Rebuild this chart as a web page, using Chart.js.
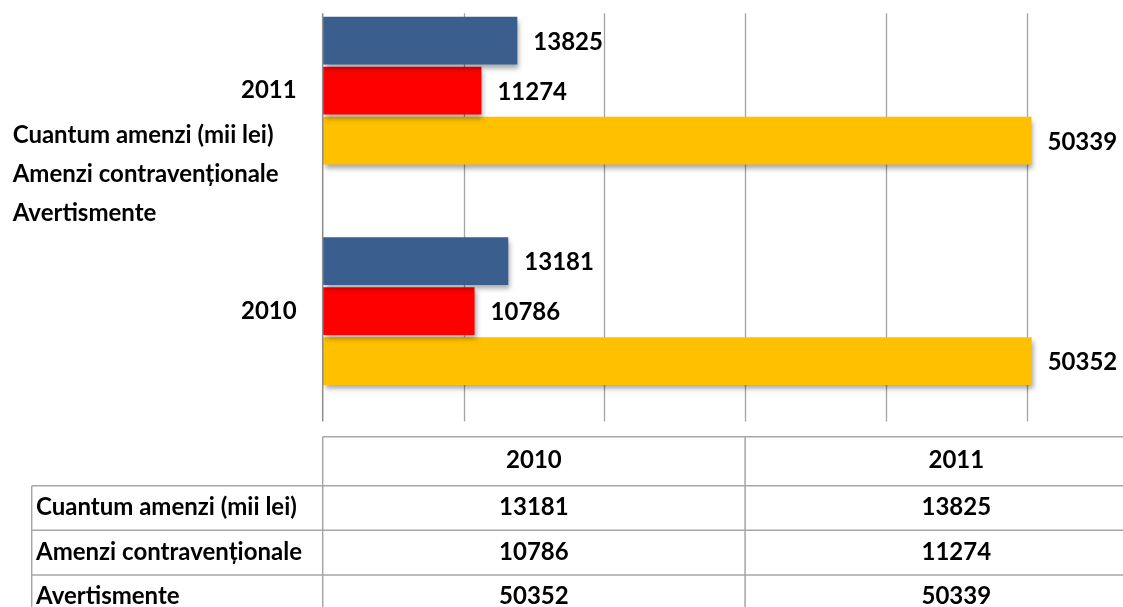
<!DOCTYPE html>
<html>
<head>
<meta charset="utf-8">
<script src="https://cdn.jsdelivr.net/npm/chart.js@4.4.1/dist/chart.umd.min.js"></script>
<style>
  html, body { margin: 0; padding: 0; background: #fff; overflow: hidden; width: 1123px; height: 607px; }
  #wrap { position: absolute; left: 0; top: -60px; width: 1190px; height: 680px; }
</style>
</head>
<body>
<div id="wrap"><canvas id="chart" width="1190" height="680"></canvas></div>
<script>
// date
const years = ["2010", "2011"];
const seriesNames = ["Cuantum amenzi (mii lei)", "Amenzi contravenționale", "Avertismente"];
const cuantum = [13181, 13825];
const amenzi = [10786, 11274];
const avertismente = [50352, 50339];
const axisMax = 60000;
const axisStep = 10000;

const colors = ["#3a5f8e", "#ff0000", "#ffc000"];
const SHIFT = 60; // canvas is moved up by this much
const FONT = "bold 24px Lato";

// grila, axa si umbra barelor
const gridAndShadow = {
  id: "gridAndShadow",
  beforeDatasetsDraw(chart) {
    const { ctx, chartArea } = chart;
    const x = chart.scales.x;
    const top = 13.3 + SHIFT;
    ctx.save();
    ctx.strokeStyle = "#a3a3a3";
    ctx.lineWidth = 1.3;
    x.ticks.forEach((t) => {
      if (t.value === 0) return;
      const px = Math.round(x.getPixelForValue(t.value)) + 0.5;
      ctx.beginPath();
      ctx.moveTo(px, top);
      ctx.lineTo(px, chartArea.bottom);
      ctx.stroke();
    });
    ctx.restore();

    ctx.save();
    ctx.shadowColor = "rgba(0,0,0,0.35)";
    ctx.shadowBlur = 5;
    ctx.shadowOffsetX = 2;
    ctx.shadowOffsetY = 4;
  },
  afterDatasetsDraw(chart) {
    const { ctx, chartArea } = chart;
    ctx.restore();
    // axa verticala
    ctx.save();
    ctx.strokeStyle = "#8c8c8c";
    ctx.lineWidth = 1.5;
    ctx.beginPath();
    ctx.moveTo(chartArea.left, 13.3 + SHIFT);
    ctx.lineTo(chartArea.left, chartArea.bottom);
    ctx.stroke();
    ctx.restore();

    // etichete valori
    ctx.save();
    ctx.font = FONT;
    ctx.fillStyle = "#000";
    ctx.textAlign = "left";
    ctx.textBaseline = "alphabetic";
    chart.data.datasets.forEach((ds, i) => {
      const meta = chart.getDatasetMeta(i);
      meta.data.forEach((bar, j) => {
        ctx.fillText(String(ds.data[j]), bar.x + 16, bar.y + 9);
      });
    });
    ctx.restore();
  },
};

// legenda (doar text) si tabelul de date
const legendAndTable = {
  id: "legendAndTable",
  afterDraw(chart) {
    const { ctx, chartArea } = chart;
    ctx.save();
    ctx.font = FONT;
    ctx.fillStyle = "#000";
    ctx.textBaseline = "alphabetic";
    ctx.textAlign = "left";
    seriesNames.forEach((name, i) => {
      ctx.fillText(name, 12.7, 142.5 + i * 39 + SHIFT);
    });

    // tabel
    const left = chartArea.left;
    const right = chartArea.right;
    const colW = (right - left) / years.length;
    const labelLeft = 31.7;
    const headTop = chartArea.bottom + 15.2;
    const headBottom = headTop + 49;
    const rowH = 44.6;
    const rows = [cuantum, amenzi, avertismente];
    const tableBottom = headBottom + rowH * rows.length;

    ctx.strokeStyle = "#a6a6a6";
    ctx.lineWidth = 1.5;
    ctx.beginPath();
    ctx.moveTo(left, headTop);
    ctx.lineTo(right, headTop);
    for (let r = 0; r <= rows.length; r++) {
      const y = headBottom + r * rowH;
      ctx.moveTo(labelLeft, y);
      ctx.lineTo(right, y);
    }
    ctx.moveTo(labelLeft, headBottom);
    ctx.lineTo(labelLeft, tableBottom);
    for (let c = 0; c <= years.length; c++) {
      const x = left + c * colW;
      ctx.moveTo(x, headTop);
      ctx.lineTo(x, tableBottom);
    }
    ctx.stroke();

    ctx.textAlign = "center";
    years.forEach((y, c) => {
      ctx.fillText(y, left + colW * (c + 0.5), headTop + 24.5 + 7);
    });
    rows.forEach((vals, r) => {
      const cy = headBottom + rowH * (r + 0.5) + 7;
      ctx.textAlign = "left";
      ctx.fillText(seriesNames[r], 36, cy);
      ctx.textAlign = "center";
      vals.forEach((v, c) => {
        ctx.fillText(String(v), left + colW * (c + 0.5), cy);
      });
    });
    ctx.restore();
  },
};

new Chart(document.getElementById("chart"), {
  type: "bar",
  data: {
    labels: years,
    datasets: [
      { label: seriesNames[0], data: cuantum, backgroundColor: colors[0] },
      { label: seriesNames[1], data: amenzi, backgroundColor: colors[1] },
      { label: seriesNames[2], data: avertismente, backgroundColor: colors[2] },
    ],
  },
  options: {
    indexAxis: "y",
    responsive: false,
    animation: false,
    layout: { padding: { top: 18.8, right: 22.5, bottom: 198.5, left: 0 } },
    datasets: { bar: { categoryPercentage: 0.68, barPercentage: 0.955 } },
    scales: {
      x: { display: false, min: 0, max: axisMax, ticks: { stepSize: axisStep } },
      y: {
        reverse: true,
        offset: true,
        grid: { display: false, drawTicks: false },
        border: { display: false },
        ticks: { font: { family: "Lato", size: 24, weight: "bold" }, color: "#000", padding: 26 },
        afterFit: (s) => { s.width = 322.7; },
      },
    },
    plugins: { legend: { display: false }, tooltip: { enabled: false } },
  },
  plugins: [gridAndShadow, legendAndTable],
});
</script>
</body>
</html>
